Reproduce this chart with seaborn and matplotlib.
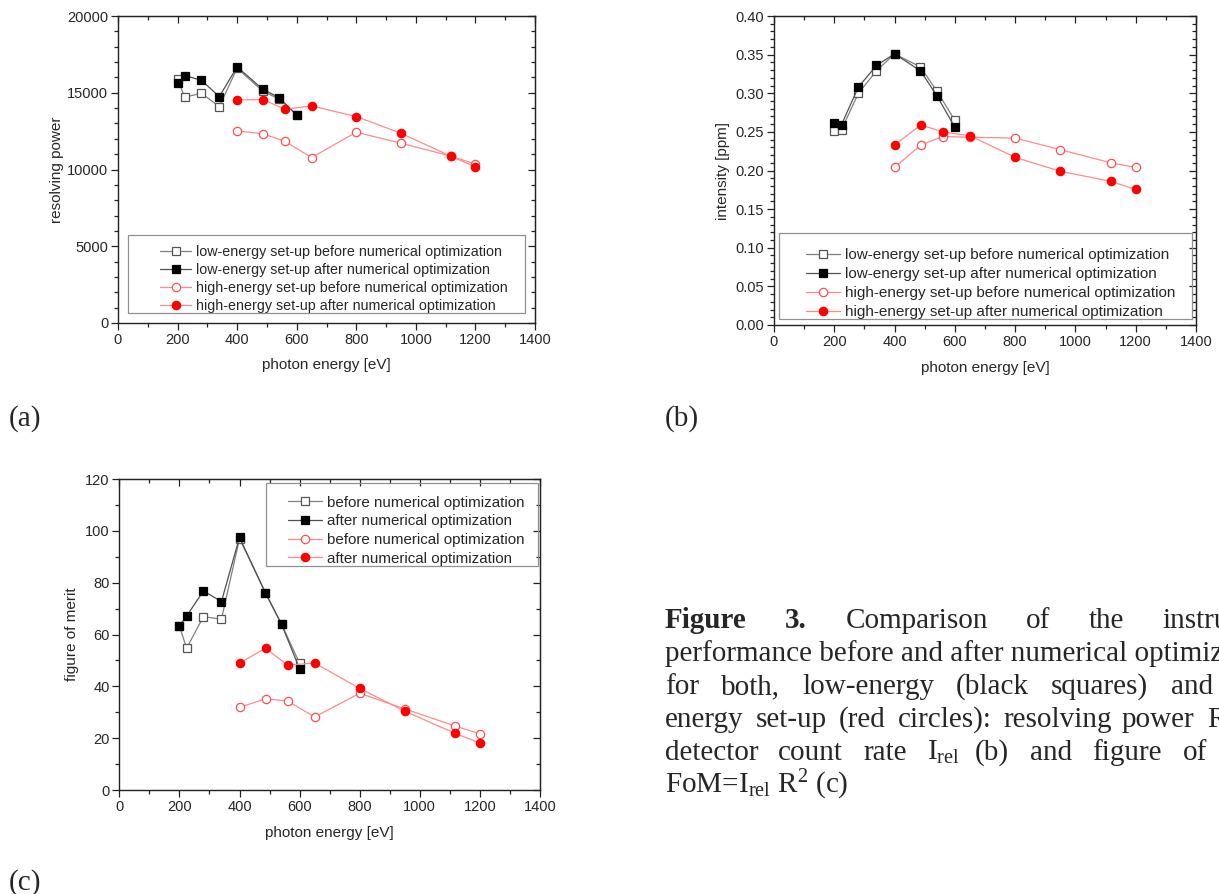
import matplotlib
matplotlib.use("Agg")
import matplotlib.pyplot as plt
import seaborn as sns
from matplotlib.ticker import MultipleLocator, FormatStrFormatter
from matplotlib.patches import Rectangle

# photon energies [eV]
x_low = [200, 224, 280, 340, 400, 486, 540, 600]
x_high = [400, 487, 560, 650, 800, 950, 1117, 1200]

# (a) resolving power
R_low_before = [15880, 14710, 14970, 14100, 16600, 15100, 14600, 13560]
R_low_after = [15620, 16120, 15810, 14750, 16680, 15230, 14690, 13560]
R_high_before = [12520, 12320, 11840, 10780, 12430, 11710, 10880, 10350]
R_high_after = [14530, 14560, 13930, 14140, 13450, 12360, 10870, 10170]

# (b) intensity [ppm]
I_low_before = [0.251, 0.253, 0.300, 0.329, 0.351, 0.334, 0.303, 0.265]
I_low_after = [0.261, 0.2595, 0.308, 0.336, 0.351, 0.329, 0.297, 0.256]
I_high_before = [0.204, 0.233, 0.244, 0.243, 0.242, 0.227, 0.210, 0.204]
I_high_after = [0.233, 0.259, 0.250, 0.245, 0.217, 0.199, 0.186, 0.1755]

# (c) figure of merit
F_low_before = [63.3, 54.7, 66.9, 65.9, 97.0, 76.2, 64.0, 48.9]
F_low_after = [63.3, 67.1, 76.8, 72.7, 97.5, 76.1, 63.9, 46.8]
F_high_before = [31.9, 35.2, 34.3, 28.2, 37.3, 31.3, 24.7, 21.7]
F_high_after = [49.0, 54.7, 48.2, 49.0, 39.2, 30.4, 21.9, 18.1]

labels_ab = ["low-energy set-up before numerical optimization",
             "low-energy set-up after numerical optimization",
             "high-energy set-up before numerical optimization",
             "high-energy set-up after numerical optimization"]
labels_c = ["before numerical optimization",
            "after numerical optimization",
            "before numerical optimization",
            "after numerical optimization"]

sns.set_style("ticks")
plt.rcParams['font.family'] = ['Liberation Sans', 'DejaVu Sans']
plt.rcParams['mathtext.fontset'] = 'custom'
plt.rcParams['mathtext.rm'] = 'Liberation Serif'
plt.rcParams['mathtext.it'] = 'Liberation Serif:italic'

W, H = 1219, 894
fig = plt.figure(figsize=(W / 100, H / 100), dpi=100)


def px(x, y):
    return x / W, 1 - y / H


def make_ax(left, top, right, bottom):
    return fig.add_axes([left / W, 1 - bottom / H, (right - left) / W, (bottom - top) / H])


grey = '#808080'
pink = '#ff8a8a'
red = '#ff0000'


def draw_series(ax, ys):
    lb, la, hb, ha = ys
    sty = [
        (x_low, lb, dict(color=grey, marker='s', ms=5.5, mfc='white', mec='#555555', mew=0.9)),
        (x_low, la, dict(color='#505050', marker='s', ms=5.5, mfc='black', mec='black', mew=0.9)),
        (x_high, hb, dict(color=pink, marker='o', ms=6, mfc='white', mec='#ff5050', mew=0.9)),
        (x_high, ha, dict(color=pink, marker='o', ms=6, mfc=red, mec=red, mew=0.9)),
    ]
    for xs, yv, kw in sty:
        sns.lineplot(x=xs, y=yv, ax=ax, sort=False, errorbar=None, lw=0.9, **kw)
    return ax.get_lines()[-4:]


def style_ax(ax, ylim, ymaj, ymin, yfmt, ylabel, ylx):
    ax.set_xlim(0, 1400)
    ax.set_ylim(*ylim)
    ax.xaxis.set_major_locator(MultipleLocator(200))
    ax.xaxis.set_minor_locator(MultipleLocator(100))
    ax.yaxis.set_major_locator(MultipleLocator(ymaj))
    ax.yaxis.set_minor_locator(MultipleLocator(ymin))
    ax.yaxis.set_major_formatter(FormatStrFormatter(yfmt))
    ax.tick_params(which='both', direction='out', labelsize=10.5, color='#222222', pad=2)
    ax.tick_params(which='major', length=5, width=0.9)
    ax.tick_params(which='minor', length=3, width=0.9)
    for s in ax.spines.values():
        s.set_linewidth(1.0)
        s.set_color('#222222')
        s.set_visible(True)
    top = ax.secondary_xaxis('top')
    top.xaxis.set_major_locator(MultipleLocator(200))
    top.xaxis.set_minor_locator(MultipleLocator(100))
    top.tick_params(which='both', direction='in', labeltop=False, color='#222222')
    top.tick_params(which='major', length=5, width=0.9)
    top.tick_params(which='minor', length=3, width=0.9)
    right = ax.secondary_yaxis('right')
    right.yaxis.set_major_locator(MultipleLocator(ymaj))
    right.yaxis.set_minor_locator(MultipleLocator(ymin))
    right.tick_params(which='both', direction='in', labelright=False, color='#222222')
    right.tick_params(which='major', length=5, width=0.9)
    right.tick_params(which='minor', length=3, width=0.9)
    ax.set_xlabel('photon energy [eV]', fontsize=11, va='center')
    ax.xaxis.set_label_coords(0.5, -0.138)
    ax.set_ylabel(ylabel, fontsize=11, va='center')
    ax.yaxis.set_label_coords(ylx, 0.5)


def add_legend(ax, handles, labels, frame, anchor, fs, hl, spacing):
    x0, y0, x1, y1 = frame
    ax.add_patch(Rectangle((x0, y0), x1 - x0, y1 - y0, transform=ax.transAxes,
                           fill=False, ec='#909090', lw=0.9, zorder=5))
    ax.legend(handles, labels, loc='upper left', bbox_to_anchor=px(*anchor),
              bbox_transform=fig.transFigure, frameon=False, borderpad=0,
              borderaxespad=0, handlelength=hl, handletextpad=0.35,
              labelspacing=spacing, fontsize=fs)


# (a)
ax_a = make_ax(118, 16, 535, 323)
h = draw_series(ax_a, [R_low_before, R_low_after, R_high_before, R_high_after])
style_ax(ax_a, (0, 20000), 5000, 1000, '%d', 'resolving power', -0.146)
add_legend(ax_a, h, labels_ab, (0.024, 0.0326, 0.976, 0.2866), (160, 245), 10.3, 2.2, 0.27)

# (b)
ax_b = make_ax(774, 16, 1196, 325)
h = draw_series(ax_b, [I_low_before, I_low_after, I_high_before, I_high_after])
style_ax(ax_b, (0, 0.40), 0.05, 0.01, '%.2f', 'intensity [ppm]', -0.121)
add_legend(ax_b, h, labels_ab, (0.012, 0.018, 0.9905, 0.297), (806, 248), 11, 2.2, 0.33)

# (c)
ax_c = make_ax(119.3, 479, 540, 790)
h = draw_series(ax_c, [F_low_before, F_low_after, F_high_before, F_high_after])
style_ax(ax_c, (0, 120), 20, 10, '%d', 'figure of merit', -0.112)
add_legend(ax_c, h, labels_c, (0.349, 0.720, 0.995, 0.986), (288, 495.5), 10.9, 2.25, 0.31)

# panel tags
serif = ['Liberation Serif', 'DejaVu Serif']
for tag, (tx, ty) in [('(a)', (9, 426)), ('(b)', (665, 426)), ('(c)', (9, 890))]:
    fig.text(*px(tx, ty), tag, family=serif, fontsize=21, va='baseline')

# caption, words placed as in the justified original (runs past the right edge there too)
caption = [
    (628, [('Figure', 665, 'bold'), ('3.', 785, 'bold'), ('Comparison', 845.5, 'normal'),
           ('of', 1026, 'normal'), ('the', 1089, 'normal'), ('instru', 1162, 'normal')]),
    (661, [('performance before and after numerical optimiz', 665, 'normal')]),
    (694, [('for', 665, 'normal'), ('both,', 721, 'normal'), ('low-energy', 802, 'normal'),
           ('(black', 956, 'normal'), ('squares)', 1051, 'normal'), ('and', 1171, 'normal')]),
    (727, [('energy', 665, 'normal'), ('set-up', 756, 'normal'), ('(red', 839, 'normal'),
           ('circles):', 897.5, 'normal'), ('resolving', 1003, 'normal'), ('power', 1122, 'normal'),
           ('R', 1207, 'normal')]),
    (760, [('detector', 665, 'normal'), ('count', 778, 'normal'), ('rate', 863, 'normal'),
           (r'I$_{\mathrm{rel}}$', 927, 'normal'), ('(b)', 975, 'normal'), ('and', 1030, 'normal'),
           ('figure', 1092, 'normal'), ('of', 1183, 'normal')]),
    (793, [(r'FoM=I$_{\mathrm{rel}}$ R$^{2}$ (c)', 665, 'normal')]),
]
for base, words in caption:
    for wtxt, wx, wgt in words:
        fig.text(*px(wx, base), wtxt, family=serif, fontsize=21, weight=wgt, va='baseline')

fig.savefig('out.png', dpi=100)
